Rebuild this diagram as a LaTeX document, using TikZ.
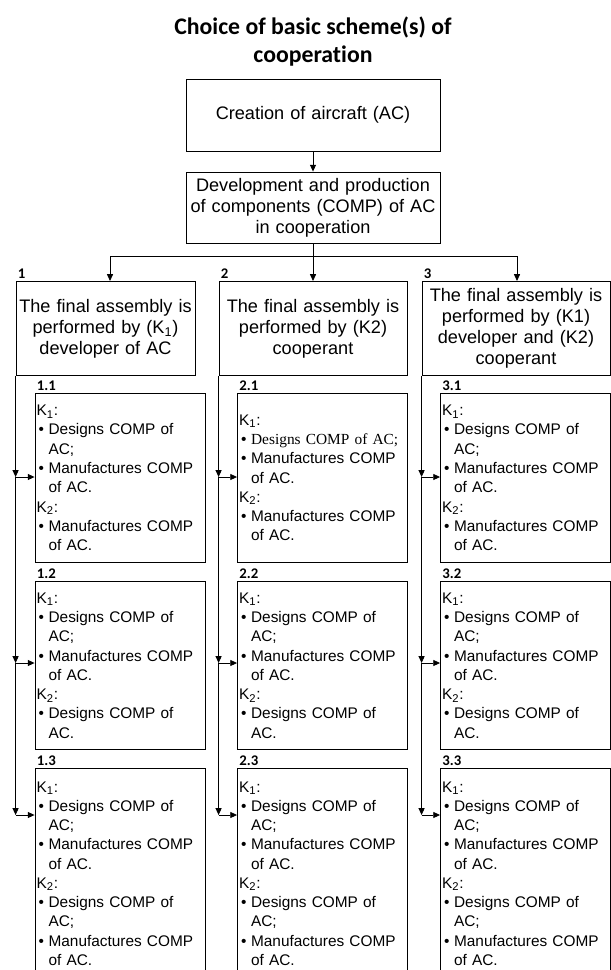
\documentclass[tikz,border=0pt]{standalone}
\usepackage{fontspec}
\setmainfont{Liberation Sans}
\newfontfamily\carlito[Ligatures=NoCommon]{Carlito}
\newfontfamily\timesf{Liberation Serif}
\usepackage{tikz}
\usetikzlibrary{positioning, arrows.meta}

\newlength{\bw}
\setlength{\bw}{0.3cm}
\newcommand{\bul}{\makebox[\bw][l]{\kern0.05cm\textbullet}}
\newcommand{\ind}{\hspace*{\bw}}

\begin{document}
\begin{tikzpicture}[
    top/.style={draw, line width=0.6pt, align=center, inner xsep=0.05cm, font=\fontsize{12.9}{14.9}\selectfont},
    sub/.style={draw, line width=0.6pt, align=left, anchor=north, inner xsep=0.04cm, inner ysep=0.1cm, text width=4.17cm, font=\fontsize{10.95}{13.7}\selectfont},
    numlab/.style={anchor=south west, inner sep=0.05cm, font=\carlito\bfseries\fontsize{10.5}{12}\selectfont},
    arr/.style={-{Triangle[length=0.17cm, width=0.15cm]}, line width=0.6pt}
  ]
  \useasboundingbox (0,0) rectangle (15.275,-24.25);
  \clip (0,0) rectangle (15.275,-24.25);

  % Title and upper boxes
  \node[font=\carlito\bfseries\fontsize{16.9}{19.9}\selectfont, align=center] (title) at (7.825,-1.05) {Choice of basic scheme(s) of\\cooperation};
  \node[top, minimum height=1.8cm, text width=6.25cm] (cre) at (7.825,-2.875) {Creation of aircraft (AC)};
  \node[top, minimum height=1.775cm, text width=6.25cm] (dev) at (7.825,-5.1875) {Development and production\\of components (COMP) of AC\\in cooperation};

  % Basic schemes
  \node[top, anchor=north, minimum height=2.35cm, text width=4.375cm] (h1) at (2.6375,-7.025) {The final assembly is\\performed by (K\textsubscript{1})\\developer of AC};
  \node[top, anchor=north, minimum height=2.35cm, text width=4.6cm] (h2) at (7.825,-7.025) {The final assembly is\\performed by (K2)\\cooperant};
  \node[top, anchor=north, minimum height=2.35cm, text width=4.6cm] (h3) at (12.9,-7.025) {The final assembly is\\performed by (K1)\\developer and (K2)\\cooperant};

  \node[numlab] (n1) at (h1.north west) {1};
  \node[numlab] (n2) at (h2.north west) {2};
  \node[numlab] (n3) at (h3.north west) {3};

  % Variants of scheme 1
  \node[sub, minimum height=4.225cm] (s11) at (3.0,-9.825) {K\textsubscript{1}:\\\bul Designs COMP of\\\ind AC;\\\bul Manufactures COMP\\\ind of AC.\\K\textsubscript{2}:\\\bul Manufactures COMP\\\ind of AC.};
  \node[sub, minimum height=4.2cm] (s12) at (3.0,-14.525) {K\textsubscript{1}:\\\bul Designs COMP of\\\ind AC;\\\bul Manufactures COMP\\\ind of AC.\\K\textsubscript{2}:\\\bul Designs COMP of\\\ind AC.};
  \node[sub, inner ysep=0.325cm] (s13) at (3.0,-19.2) {K\textsubscript{1}:\\\bul Designs COMP of\\\ind AC;\\\bul Manufactures COMP\\\ind of AC.\\K\textsubscript{2}:\\\bul Designs COMP of\\\ind AC;\\\bul Manufactures COMP\\\ind of AC.};

  % Variants of scheme 2
  \node[sub, minimum height=4.225cm] (s21) at (8.0625,-9.825) {K\textsubscript{1}:\\\bul{\timesf Designs COMP of AC;}\\\bul Manufactures COMP\\\ind of AC.\\K\textsubscript{2}:\\\bul Manufactures COMP\\\ind of AC.};
  \node[sub, minimum height=4.2cm] (s22) at (8.0625,-14.525) {K\textsubscript{1}:\\\bul Designs COMP of\\\ind AC;\\\bul Manufactures COMP\\\ind of AC.\\K\textsubscript{2}:\\\bul Designs COMP of\\\ind AC.};
  \node[sub, inner ysep=0.325cm] (s23) at (8.0625,-19.2) {K\textsubscript{1}:\\\bul Designs COMP of\\\ind AC;\\\bul Manufactures COMP\\\ind of AC.\\K\textsubscript{2}:\\\bul Designs COMP of\\\ind AC;\\\bul Manufactures COMP\\\ind of AC.};

  % Variants of scheme 3
  \node[sub, minimum height=4.225cm] (s31) at (13.1375,-9.825) {K\textsubscript{1}:\\\bul Designs COMP of\\\ind AC;\\\bul Manufactures COMP\\\ind of AC.\\K\textsubscript{2}:\\\bul Manufactures COMP\\\ind of AC.};
  \node[sub, minimum height=4.2cm] (s32) at (13.1375,-14.525) {K\textsubscript{1}:\\\bul Designs COMP of\\\ind AC;\\\bul Manufactures COMP\\\ind of AC.\\K\textsubscript{2}:\\\bul Designs COMP of\\\ind AC.};
  \node[sub, inner ysep=0.325cm] (s33) at (13.1375,-19.2) {K\textsubscript{1}:\\\bul Designs COMP of\\\ind AC;\\\bul Manufactures COMP\\\ind of AC.\\K\textsubscript{2}:\\\bul Designs COMP of\\\ind AC;\\\bul Manufactures COMP\\\ind of AC.};

  \node[numlab] (n11) at (s11.north west) {1.1};
  \node[numlab] (n12) at (s12.north west) {1.2};
  \node[numlab] (n13) at (s13.north west) {1.3};
  \node[numlab] (n21) at (s21.north west) {2.1};
  \node[numlab] (n22) at (s22.north west) {2.2};
  \node[numlab] (n23) at (s23.north west) {2.3};
  \node[numlab] (n31) at (s31.north west) {3.1};
  \node[numlab] (n32) at (s32.north west) {3.2};
  \node[numlab] (n33) at (s33.north west) {3.3};

  % Upper connectors
  \coordinate (hub) at (dev.south |- 0,-6.4);
  \coordinate (c1) at (2.75,-6.4);
  \coordinate (c3) at (12.925,-6.4);
  \draw[arr] (cre) -- (dev);
  \draw[line width=0.6pt] (dev) -- (hub);
  \draw[line width=0.6pt] (c1) -- (c3);
  \draw[arr] (c1) -- (c1 |- h1.north);
  \draw[arr] (hub) -- (h2);
  \draw[arr] (c3) -- (c3 |- h3.north);

  % Branch points
  \coordinate (j11) at (h1.south west |- 0,-11.925);
  \coordinate (j12) at (h1.south west |- 0,-16.575);
  \coordinate (j13) at (h1.south west |- 0,-20.375);
  \coordinate (j21) at (h2.south west |- 0,-11.925);
  \coordinate (j22) at (h2.south west |- 0,-16.575);
  \coordinate (j23) at (h2.south west |- 0,-20.375);
  \coordinate (j31) at (h3.south west |- 0,-11.925);
  \coordinate (j32) at (h3.south west |- 0,-16.575);
  \coordinate (j33) at (h3.south west |- 0,-20.375);

  % Lower connectors
  \draw[arr] (h1.south west) -- (j11);
  \draw[arr] (j11) -- (j12);
  \draw[arr] (j12) -- (j13);
  \draw[arr] (j11) -- (j11 -| s11.west);
  \draw[arr] (j12) -- (j12 -| s12.west);
  \draw[arr] (j13) -- (j13 -| s13.west);

  \draw[arr] (h2.south west) -- (j21);
  \draw[arr] (j21) -- (j22);
  \draw[arr] (j22) -- (j23);
  \draw[arr] (j21) -- (j21 -| s21.west);
  \draw[arr] (j22) -- (j22 -| s22.west);
  \draw[arr] (j23) -- (j23 -| s23.west);

  \draw[arr] (h3.south west) -- (j31);
  \draw[arr] (j31) -- (j32);
  \draw[arr] (j32) -- (j33);
  \draw[arr] (j31) -- (j31 -| s31.west);
  \draw[arr] (j32) -- (j32 -| s32.west);
  \draw[arr] (j33) -- (j33 -| s33.west);
\end{tikzpicture}
\end{document}
